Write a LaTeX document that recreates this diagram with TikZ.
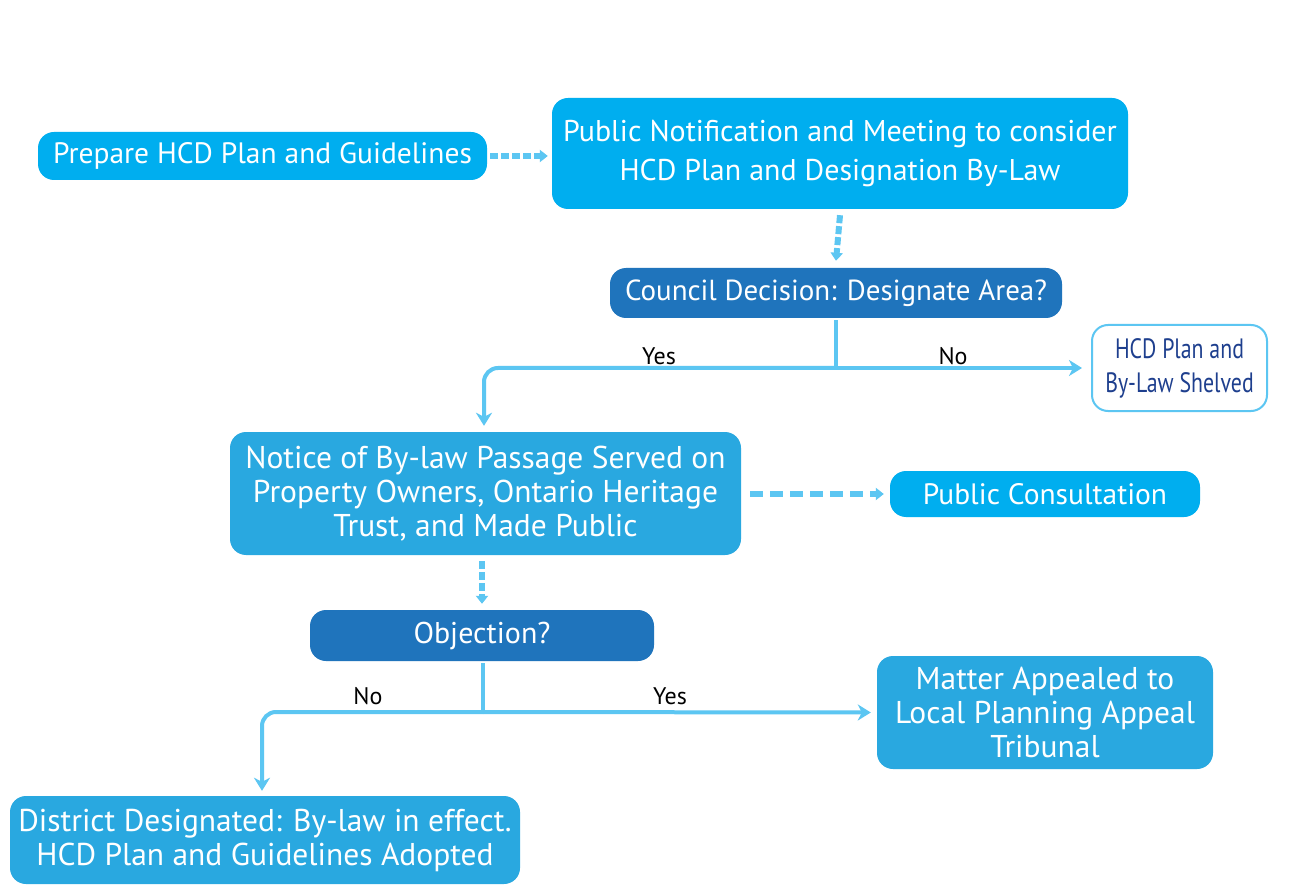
\documentclass[tikz,border=0pt]{standalone}
\usepackage{fontspec}
\setmainfont{PT Sans}
\newfontfamily\condfont[FakeStretch=0.78]{PT Sans}
\usetikzlibrary{arrows.meta,calc}
\definecolor{cyanA}{HTML}{00AEEF}
\definecolor{cyanB}{HTML}{29A8E0}
\definecolor{darkB}{HTML}{1F74BC}
\definecolor{lineC}{HTML}{5CC6F2}
\definecolor{navy}{HTML}{1E3F8E}
\begin{document}
\begin{tikzpicture}[x=1pt,y=-1pt,
  box/.style={rounded corners=16pt, text=white, align=center, inner sep=0pt},
  midfont/.style={font=\fontsize{31.5}{34}\selectfont},
  conn/.style={draw=lineC, line width=4pt, -{Stealth[length=13pt,width=16pt,inset=4pt]}},
  plain/.style={draw=lineC, line width=4pt},
  dasharrow/.style={draw=lineC, line width=6pt, dash pattern=on 8pt off 3pt, -{Triangle[length=8pt,width=12pt]}},
  lbl/.style={font=\fontsize{24}{26}\selectfont, text=black, inner sep=0pt}
]
\useasboundingbox[fill=white] (0,0) rectangle (1291,885);

\node[box, font=\fontsize{29.5}{39}\selectfont, fill=cyanA, minimum width=449pt, minimum height=48pt] (prep) at (262.5,156) {Prepare HCD Plan and Guidelines};
\node[box, font=\fontsize{30}{39}\selectfont, fill=cyanA, minimum width=576pt, minimum height=111pt] (pub) at (840,153.5) {Public Notification and Meeting to consider\\HCD Plan and Designation By-Law};
\node[box, font=\fontsize{29}{39}\selectfont, fill=darkB, minimum width=452pt, minimum height=50pt] (council) at (836,293) {Council Decision: Designate Area?};
\node[box, fill=white, draw=lineC, line width=2pt, text=navy, font=\condfont\fontsize{28}{34}\selectfont, minimum width=175pt, minimum height=86pt] (shelved) at (1179.5,368) {HCD Plan and\\By-Law Shelved};
\node[box, midfont, fill=cyanB, minimum width=511pt, minimum height=123pt] (notice) at (485.5,493.5) {Notice of By-law Passage Served on\\Property Owners, Ontario Heritage\\Trust, and Made Public};
\node[box, font=\fontsize{29.5}{39}\selectfont, fill=cyanA, minimum width=310pt, minimum height=46pt] (cons) at (1045,494) {Public Consultation};
\node[box, font=\fontsize{30}{39}\selectfont, fill=darkB, minimum width=344pt, minimum height=51pt] (obj) at (482,635.5) {Objection?};
\node[box, midfont, fill=cyanB, minimum width=336pt, minimum height=113pt] (matter) at (1045,712.5) {Matter Appealed to\\Local Planning Appeal\\Tribunal};
\node[box, midfont, fill=cyanB, minimum width=510pt, minimum height=88pt] (dist) at (265,840) {District Designated: By-law in effect.\\HCD Plan and Guidelines Adopted};

% dashed connectors
\draw[dasharrow] ([xshift=3pt]prep.east) -- ([xshift=-4pt]pub.west |- prep.east);
\draw[dasharrow] ([yshift=-6pt]pub.south) -- ([yshift=7pt]council.north);
\draw[dasharrow, dash pattern=on 13pt off 7pt] ([xshift=9pt]notice.east |- cons.west) -- ([xshift=-6pt]cons.west);
\draw[dasharrow] ([yshift=-6pt]notice.south -| obj.north) -- ([yshift=6pt]obj.north);

% council decision branches
\coordinate (j1) at (836,368);
\draw[plain] ([yshift=-2pt]council.south) -- (j1);
\draw[conn, rounded corners=14pt] (j1) -| ([yshift=6pt]notice.north -| 484,0);
\draw[conn] (j1) -- ([xshift=-9pt]shelved.west);
\node[lbl] (yes1) at (659,356) {Yes};
\node[lbl] (no1) at (953,356) {No};

% objection branches
\coordinate (j2) at (483,712);
\draw[plain] ([yshift=-2pt]obj.south -| j2) -- (j2);
\draw[conn, rounded corners=14pt] (j2) -| ([yshift=5pt]dist.north -| 262,0);
\draw[conn] (j2) -- ([xshift=-6pt]matter.west);
\node[lbl] (no2) at (368,696) {No};
\node[lbl] (yes2) at (670,696) {Yes};
\end{tikzpicture}
\end{document}
